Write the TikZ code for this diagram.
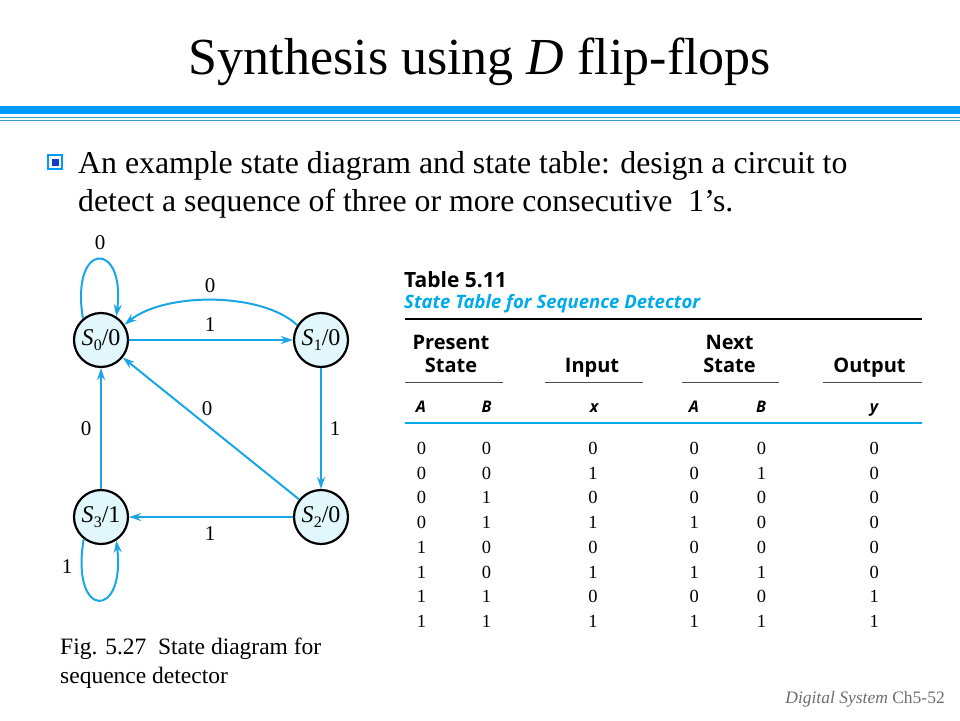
\documentclass[tikz,border=0pt]{standalone}
\usepackage{fontspec}
\setmainfont{Liberation Serif}
\newfontfamily\tabfont{Open Sans}
\usetikzlibrary{arrows.meta}
\definecolor{barblue}{RGB}{0,153,255}
\definecolor{lineblue}{RGB}{51,153,204}
\definecolor{arrowblue}{RGB}{25,165,230}
\definecolor{statefill}{RGB}{225,247,252}
\definecolor{tabcyan}{RGB}{0,170,235}
\definecolor{footgray}{RGB}{110,110,110}
\definecolor{bulletdark}{RGB}{20,60,200}
\newcommand{\fs}[1]{\fontsize{#1}{#1}\selectfont}
\newcommand{\stl}[2]{\textit{S}\kern0.01em\raisebox{-0.2em}{\fs{16}#1}/#2}
\tikzset{
  statenode/.style={circle, draw=black, line width=2.2pt, fill=statefill, minimum size=54pt, inner sep=0pt, font=\fs{24}},
  edge/.style={draw=arrowblue, line width=2pt, -{Stealth[length=12pt,width=8pt]}},
  elabel/.style={font=\fs{21}, inner sep=0pt},
  hdr/.style={anchor=base, font=\tabfont\bfseries\fs{20}, inner sep=0pt},
  colhdr/.style={anchor=base, font=\tabfont\bfseries\itshape\fs{16}, inner sep=0pt},
  cell/.style={anchor=base, font=\fs{18.5}, inner sep=0pt},
  rulethin/.style={draw=black!70, line width=1pt},
}
\begin{document}
\begin{tikzpicture}[x=1pt,y=-1pt]
\useasboundingbox (0,0) rectangle (960,720);
\fill[white] (0,0) rectangle (960,720);
% title
\node[anchor=base, inner sep=0pt] (title) at (480,74) {\fs{52}Synthesis using \textit{D} flip-flops};
\fill[barblue] (0,106) rectangle (960,114);
\draw[lineblue, line width=1pt] (0,117) -- (960,117);
\draw[lineblue, line width=1pt] (0,120) -- (960,120);
% bullet
\node[draw=barblue, line width=1.2pt, fill=white, minimum size=14pt, inner sep=0pt] (bul) at (55,162) {};
\node[fill=bulletdark, minimum size=7pt, inner sep=0pt] (bulin) at (bul.center) {};
\node[anchor=base west, inner sep=0pt] (line1) at (78,173) {\fs{31.8}An example state diagram and state table: design a circuit to};
\node[anchor=base west, inner sep=0pt] (line2) at (78,211) {\fs{31.8}detect a sequence of three or more consecutive\ \ 1’s.};
% states
\node[statenode] (S0) at (101,340) {\stl{0}{0}};
\node[statenode] (S1) at (321,340) {\stl{1}{0}};
\node[statenode] (S2) at (321,517) {\stl{2}{0}};
\node[statenode] (S3) at (101,517) {\stl{3}{1}};
% edges
\draw[edge] (S0.130) .. controls (70,240) and (126,240) .. (S0.57);
\node[elabel] (l00) at (100,243) {0};
\draw[edge] (S1.148) .. controls (262,292) and (165,292) .. (S0.33);
\node[elabel] (l10) at (210,286) {0};
\draw[edge] (S0) -- (S1);
\node[elabel] (l01) at (210,325) {1};
\draw[edge] (S1) -- (S2);
\node[elabel] (l12) at (335,429) {1};
\draw[edge] (S2) -- (S0);
\node[elabel] (l20) at (207,409) {0};
\draw[edge] (S2) -- (S3);
\node[elabel] (l23) at (210,534) {1};
\draw[edge] (S3) -- (S0);
\node[elabel] (l30) at (86,429) {0};
\draw[edge] (S3.232) .. controls (70,620) and (126,620) .. (S3.303);
\node[elabel] (l33) at (67,567) {1};
% caption
\node[anchor=base west, inner sep=0pt, align=left] (cap1) at (60,654) {\fs{23.5}Fig. 5.27\ \ State diagram for};
\node[anchor=base west, inner sep=0pt, align=left] (cap2) at (60,683) {\fs{23.5}sequence detector};
% table
\node[anchor=base west, inner sep=0pt, font=\tabfont\bfseries\fs{21}] (tabtitle) at (404,287) {Table 5.11};
\node[anchor=base west, inner sep=0pt, font=\tabfont\bfseries\itshape\fs{18.5}, text=tabcyan] (tabsub) at (404,308) {State Table for Sequence Detector};
\draw[black, line width=2pt] (405,318.5) -- (922,318.5);
\node[hdr] (hP) at (451,349) {Present};
\node[hdr] (hPS) at (451,372) {State};
\node[hdr] (hI) at (592,372) {Input};
\node[hdr] (hN) at (729.5,349) {Next};
\node[hdr] (hNS) at (729.5,372) {State};
\node[hdr] (hO) at (869.5,372) {Output};
\draw[rulethin] (405,382.7) -- (503,382.7);
\draw[rulethin] (545,382.7) -- (643,382.7);
\draw[rulethin] (681.5,382.7) -- (779,382.7);
\draw[rulethin] (822.5,382.7) -- (921.5,382.7);
\node[colhdr] (cA) at (421,412) {A};
\node[colhdr] (cB) at (486.5,412) {B};
\node[colhdr] (cx) at (594,412) {x};
\node[colhdr] (cnA) at (694,412) {A};
\node[colhdr] (cnB) at (761,412) {B};
\node[colhdr] (cy) at (874,412) {y};
\draw[tabcyan, line width=2pt] (405,422.5) -- (922,422.5);
\foreach \pa/\pb/\inx/\na/\nb/\outy [count=\i] in {0/0/0/0/0/0, 0/0/1/0/1/0, 0/1/0/0/0/0, 0/1/1/1/0/0, 1/0/0/0/0/0, 1/0/1/1/1/0, 1/1/0/0/0/1, 1/1/1/1/1/1} {
  \node[cell] (r\i c1) at (421.5,{454.5+24.7*(\i-1)}) {\pa};
  \node[cell] (r\i c2) at (486.5,{454.5+24.7*(\i-1)}) {\pb};
  \node[cell] (r\i c3) at (593,{454.5+24.7*(\i-1)}) {\inx};
  \node[cell] (r\i c4) at (694.3,{454.5+24.7*(\i-1)}) {\na};
  \node[cell] (r\i c5) at (761.5,{454.5+24.7*(\i-1)}) {\nb};
  \node[cell] (r\i c6) at (874.3,{454.5+24.7*(\i-1)}) {\outy};
}
% footer
\node[anchor=base east, inner sep=0pt, text=footgray] (foot) at (945,703) {\fs{17.5}\textit{Digital System} Ch5-52};
\end{tikzpicture}
\end{document}
